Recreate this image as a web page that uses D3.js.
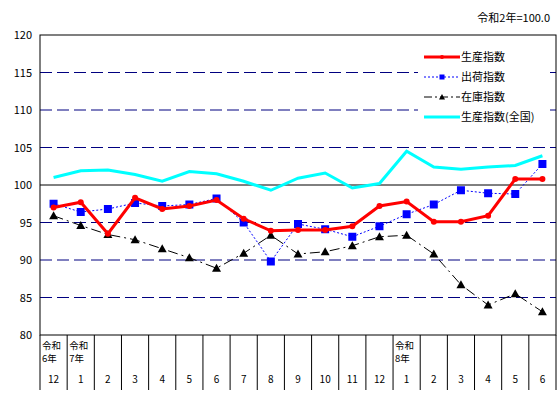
<!DOCTYPE html><html><head><meta charset="utf-8"><script src="https://cdn.jsdelivr.net/npm/d3@7"></script>
<style>body{margin:0;background:#fff}text{font-family:"Noto Sans CJK JP","DejaVu Sans",sans-serif}</style></head><body>
<svg id="c" width="557" height="405"></svg>
<script>
const months=["12","1","2","3","4","5","6","7","8","9","10","11","12","1","2","3","4","5","6"];
const years={0:["令和","6年"],1:["令和","7年"],13:["令和","8年"]};
const prod=[97.0,97.7,93.5,98.3,96.8,97.2,98.0,95.5,93.9,94.0,94.0,94.5,97.2,97.8,95.1,95.1,95.9,100.8,100.8];
const ship=[97.5,96.4,96.8,97.6,97.2,97.4,98.2,95.0,89.8,94.8,94.1,93.1,94.5,96.1,97.4,99.3,98.9,98.8,102.8];
const inv=[95.9,94.6,93.4,92.7,91.5,90.3,88.9,90.9,93.3,90.8,91.1,91.9,93.1,93.3,90.8,86.7,84.0,85.5,83.1];
const nat=[101.0,101.9,102.0,101.4,100.5,101.8,101.5,100.5,99.3,100.9,101.6,99.6,100.2,104.5,102.4,102.1,102.4,102.6,103.9];
const yTicks=[80,85,90,95,100,105,110,115,120];
const svg=d3.select("#c");
const L=40,R=556,T=35,B=335;
const x=d3.scaleBand().domain(d3.range(19)).range([L,R]);
const y=d3.scaleLinear().domain([80,120]).range([B,T]);
const cx=i=>x(i)+x.bandwidth()/2;
yTicks.forEach(v=>{
 if(v===80||v===120)return;
 svg.append("line").attr("x1",L).attr("x2",R).attr("y1",y(v)).attr("y2",y(v))
  .attr("stroke",v===100?"#000":"#000080").attr("stroke-width",1).attr("stroke-dasharray",v===100?null:"12,5");
});
svg.append("rect").attr("x",L).attr("y",T).attr("width",R-L).attr("height",B-T).attr("fill","none").attr("stroke","#000");
svg.selectAll(".yt").data(yTicks).join("text").attr("x",L-8).attr("y",d=>y(d)+4).attr("text-anchor","end").attr("font-size",11).text(d=>d);
svg.append("text").attr("x",550).attr("y",22).attr("text-anchor","end").attr("font-size",11).text("令和2年=100.0");
d3.range(20).forEach(i=>{const xx=i<19?x(i):R;svg.append("line").attr("x1",xx).attr("x2",xx).attr("y1",B).attr("y2",390).attr("stroke","#000");});
months.forEach((m,i)=>svg.append("text").attr("x",cx(i)).attr("y",383).attr("text-anchor","middle").attr("font-size",10).text(m));
Object.entries(years).forEach(([i,t])=>{t.forEach((s,k)=>svg.append("text").attr("x",x(+i)+2).attr("y",349+k*13).attr("font-size",9.5).text(s));});
svg.append("rect").attr("x",418).attr("y",45).attr("width",130).attr("height",77).attr("fill","#fff");
const line=d3.line().x((d,i)=>cx(i)).y(d=>y(d));
function series(data,col,w,dash,marker,ms){
 svg.append("path").attr("d",line(data)).attr("fill","none").attr("stroke",col).attr("stroke-width",w).attr("stroke-dasharray",dash);
 data.forEach((d,i)=>marker(cx(i),y(d),col,ms));
}
const circ=(a,b,c,s)=>svg.append("circle").attr("cx",a).attr("cy",b).attr("r",s).attr("fill",c);
const sq=(a,b,c,s)=>svg.append("rect").attr("x",a-s).attr("y",b-s).attr("width",2*s).attr("height",2*s).attr("fill",c);
const tri=(a,b,c,s)=>svg.append("path").attr("d",`M${a},${b-s}L${a+s},${b+s*0.8}L${a-s},${b+s*0.8}Z`).attr("fill",c);
const none=()=>{};
series(nat,"#00ffff",3,null,none,0);
series(inv,"#000","1","10,4,2,4",tri,4.5);
series(ship,"#0000ff",1,"2,2",sq,4);
series(prod,"#ff0000",3,null,circ,3);
const lg=[["生産指数","#ff0000",3,null,circ,2],["出荷指数","#0000ff",1,"2,2",sq,2.5],["在庫指数","#000",1,"8,3,2,3",tri,3],["生産指数(全国)","#00ffff",3,null,none,0]];
lg.forEach((l,k)=>{const yy=57+k*20;
 svg.append("line").attr("x1",424).attr("x2",460).attr("y1",yy).attr("y2",yy).attr("stroke",l[1]).attr("stroke-width",l[2]).attr("stroke-dasharray",l[3]);
 l[4](442,yy,l[1],l[5]);
 svg.append("text").attr("x",461).attr("y",yy+4).attr("font-size",11).text(l[0]);
});
</script></body></html>
